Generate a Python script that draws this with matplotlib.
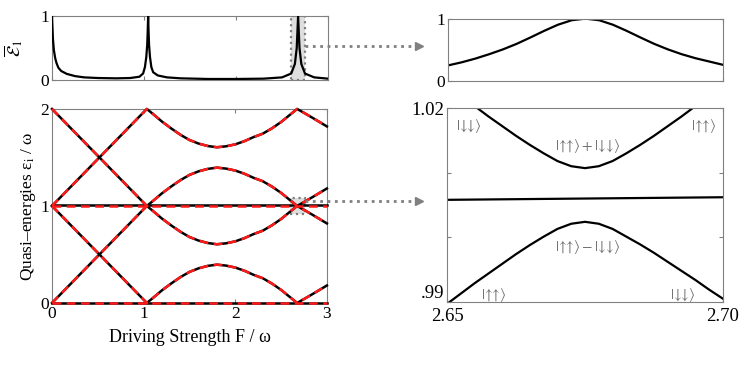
import numpy as np
import matplotlib
matplotlib.use("Agg")
import matplotlib.pyplot as plt
from matplotlib.patches import Rectangle
from matplotlib.lines import Line2D

plt.rcParams['font.family'] = ['Liberation Serif', 'DejaVu Serif']
plt.rcParams['mathtext.fontset'] = 'stix'
plt.rcParams['font.size'] = 11

# --- data ---
# top left: averaged occupation vs driving strength
F_occ = [0, 0.01, 0.02, 0.035, 0.05, 0.07, 0.1, 0.16, 0.25, 0.35, 0.5, 0.7, 0.85, 0.95, 0.99,
         1.01, 1.025, 1.035, 1.04, 1.045, 1.05, 1.055, 1.065, 1.08, 1.1, 1.15, 1.25, 1.4, 1.7,
         2.0, 2.3, 2.5, 2.6, 2.64, 2.66, 2.675, 2.69, 2.71, 2.75, 2.85, 3.0]
occ = [1.0, 0.65, 0.47, 0.34, 0.26, 0.19, 0.14, 0.095, 0.06, 0.04, 0.03, 0.025, 0.03, 0.05, 0.1,
       0.2, 0.36, 0.55, 0.75, 1.0, 0.75, 0.55, 0.36, 0.2, 0.12, 0.07, 0.04, 0.025, 0.015,
       0.015, 0.02, 0.04, 0.1, 0.25, 0.5, 1.0, 0.5, 0.25, 0.1, 0.04, 0.02]

# bottom left: quasi-energies
F_qe = [0, 0.5, 1.035, 1.1, 1.2, 1.3, 1.4, 1.5, 1.6, 1.7, 1.8, 1.9, 2.0, 2.1, 2.2, 2.3,
        2.4, 2.5, 2.6, 2.675, 2.75, 2.85, 3.0]
eps_a = [2.0, 1.517, 1.0, 0.95, 0.87, 0.80, 0.735, 0.68, 0.643, 0.618, 0.605, 0.615, 0.635,
         0.668, 0.71, 0.745, 0.80, 0.865, 0.942, 1.0, 1.04, 1.095, 1.18]
eps_b = [0.0, 0.483, 1.0, 1.05, 1.13, 1.20, 1.265, 1.32, 1.357, 1.382, 1.395, 1.385, 1.365,
         1.332, 1.29, 1.255, 1.20, 1.135, 1.058, 1.0, 0.96, 0.905, 0.82]
eps_c = [1.0, 1.483, 2.0, 1.95, 1.87, 1.80, 1.735, 1.68, 1.643, 1.618, 1.605, 1.615, 1.635,
         1.668, 1.71, 1.745, 1.80, 1.865, 1.942, 2.0, 1.96, 1.905, 1.82]
eps_d = [1.0, 0.517, 0.0, 0.05, 0.13, 0.20, 0.265, 0.32, 0.357, 0.382, 0.395, 0.385, 0.365,
         0.332, 0.29, 0.255, 0.20, 0.135, 0.058, 0.0, 0.04, 0.095, 0.18]
F_flat = [0, 3]
flat_hi = [1.005, 1.005]
flat_lo = [0.004, 0.004]
flat_hi_approx = [1.0, 1.0]
flat_lo_approx = [0.0, 0.0]

# top right: zoom of the occupation peak
F_zoom = [2.65, 2.6525, 2.655, 2.6575, 2.66, 2.6625, 2.665, 2.6675, 2.67, 2.6725, 2.675,
          2.6775, 2.68, 2.6825, 2.685, 2.6875, 2.69, 2.6925, 2.695, 2.6975, 2.70]
occ_zoom = [0.25, 0.30, 0.36, 0.43, 0.507, 0.596, 0.698, 0.804, 0.902, 0.974, 1.0,
            0.974, 0.902, 0.804, 0.698, 0.596, 0.507, 0.43, 0.366, 0.313, 0.26]

# bottom right: avoided crossing
eps_up = [1.0234, 1.0218, 1.0203, 1.0187, 1.0172, 1.0157, 1.0143, 1.0130, 1.0118, 1.0110, 1.0107,
          1.0110, 1.0118, 1.0130, 1.0143, 1.0157, 1.0172, 1.0187, 1.0203, 1.0218, 1.0234]
eps_dn = [0.9897, 0.9913, 0.9929, 0.9944, 0.9959, 0.9974, 0.9988, 1.0001, 1.0013, 1.0021, 1.0024,
          1.0021, 1.0013, 1.0001, 0.9989, 0.9976, 0.9962, 0.9948, 0.9934, 0.9919, 0.9905]
F_mid = [2.65, 2.70]
eps_mid = [1.0058, 1.0062]

GRAY = '0.5'


def style(ax, size=12):
    for s in ax.spines.values():
        s.set_color(GRAY)
    ax.tick_params(direction='in', length=3, color=GRAY, top=True, right=True, pad=2,
                   labelsize=size)


fig = plt.figure(figsize=(7.47, 3.65), dpi=100)
ax1 = fig.add_axes([0.0696, 0.781, 0.3695, 0.175])
ax2 = fig.add_axes([0.0696, 0.170, 0.368, 0.5315])
ax3 = fig.add_axes([0.5997, 0.778, 0.368, 0.171])
ax4 = fig.add_axes([0.5984, 0.1726, 0.3695, 0.5315])

# top left
ax1.add_patch(Rectangle((2.6, 0), 0.15, 1, facecolor='0.87', edgecolor=GRAY, ls=':', lw=1.6,
                        zorder=1))
ax1.plot(F_occ, occ, color='k', lw=1.6, zorder=3)
ax1.set_xlim(0, 3)
ax1.set_ylim(0, 1)
ax1.set_xticks([0, 1, 2, 3])
ax1.set_xticklabels([])
ax1.set_yticks([0, 1])
ax1.set_ylabel(r'$\overline{\mathcal{E}}_1$', fontsize=13, labelpad=11)
style(ax1, 12.5)

# bottom left
ax2.add_patch(Rectangle((2.6, 0.915), 0.16, 0.17, facecolor='0.87', edgecolor=GRAY, ls=':',
                        lw=1.6, zorder=1))
for ys in (eps_a, eps_b, eps_c, eps_d):
    ax2.plot(F_qe, ys, color='k', lw=1.8, zorder=3)
ax2.plot(F_flat, flat_hi, color='k', lw=1.8, zorder=3)
ax2.plot(F_flat, flat_lo, color='k', lw=1.8, zorder=3)
dash = (0, (3.5, 2.2))
for ys in (eps_a, eps_b, eps_c, eps_d):
    ax2.plot(F_qe, ys, color='#ff1a1a', lw=1.8, ls=dash, zorder=4)
ax2.plot(F_flat, flat_hi_approx, color='#ff1a1a', lw=1.8, ls=dash, zorder=4)
ax2.plot(F_flat, flat_lo_approx, color='#ff1a1a', lw=1.8, ls=dash, zorder=4)
ax2.set_xlim(0, 3)
ax2.set_ylim(0, 2)
ax2.set_xticks([0, 1, 2, 3])
ax2.set_yticks([0, 1, 2])
ax2.set_xlabel('Driving Strength F / ω', fontsize=13, labelpad=5)
ax2.set_ylabel(r'Quasi–energies ε$_{\mathrm{i}}$ / ω', fontsize=12.5, labelpad=2)
for ln in ax2.lines:
    ln.set_clip_on(False)
style(ax2, 12.5)

# top right
ax3.plot(F_zoom, occ_zoom, color='k', lw=1.6)
ax3.set_xlim(2.65, 2.70)
ax3.set_ylim(0, 1)
ax3.set_xticks([2.65, 2.70])
ax3.set_xticklabels([])
ax3.set_yticks([0, 1])
style(ax3, 12.5)

# bottom right
ax4.plot(F_zoom, eps_up, color='k', lw=1.6)
ax4.plot(F_zoom, eps_dn, color='k', lw=1.6)
ax4.plot(F_mid, eps_mid, color='k', lw=1.6)
ax4.set_xlim(2.65, 2.70)
ax4.set_ylim(0.99, 1.02)
ax4.set_xticks([2.65, 2.70])
ax4.set_xticklabels(['2.65', '2.70'])
ax4.set_yticks([0.99, 1.00, 1.01, 1.02])
ax4.set_yticklabels(['.99', '', '', '1.02'])
style(ax4, 13.5)
ax4.tick_params(axis='x', pad=4)
ax4.get_yticklabels()[0].set_va('bottom')
tc = '0.45'
uu = r'|↑↑\rangle'
dd = r'|↓↓\rangle'
kets = [(2.6539, 1.0172, dd), (2.6966, 1.0172, uu),
        (2.6755, 1.01417, uu + '+' + dd), (2.6755, 0.99846, uu + '-' + dd),
        (2.6584, 0.99104, uu), (2.6927, 0.99104, dd)]
for x, y, s in kets:
    ax4.text(x, y, '$' + s + '$', color=tc, fontsize=11, ha='center', va='center')

# dotted arrows from the marked regions to the zoom panels
for ypix in (46, 201):
    yf = 1 - ypix / 365
    fig.add_artist(Line2D([305 / 747, 416 / 747], [yf, yf], transform=fig.transFigure,
                          color=GRAY, ls=':', lw=2))
    fig.add_artist(Line2D([419 / 747], [yf], transform=fig.transFigure, color=GRAY,
                          marker='>', markersize=6, ls='none'))

fig.savefig('out.png', dpi=100)
